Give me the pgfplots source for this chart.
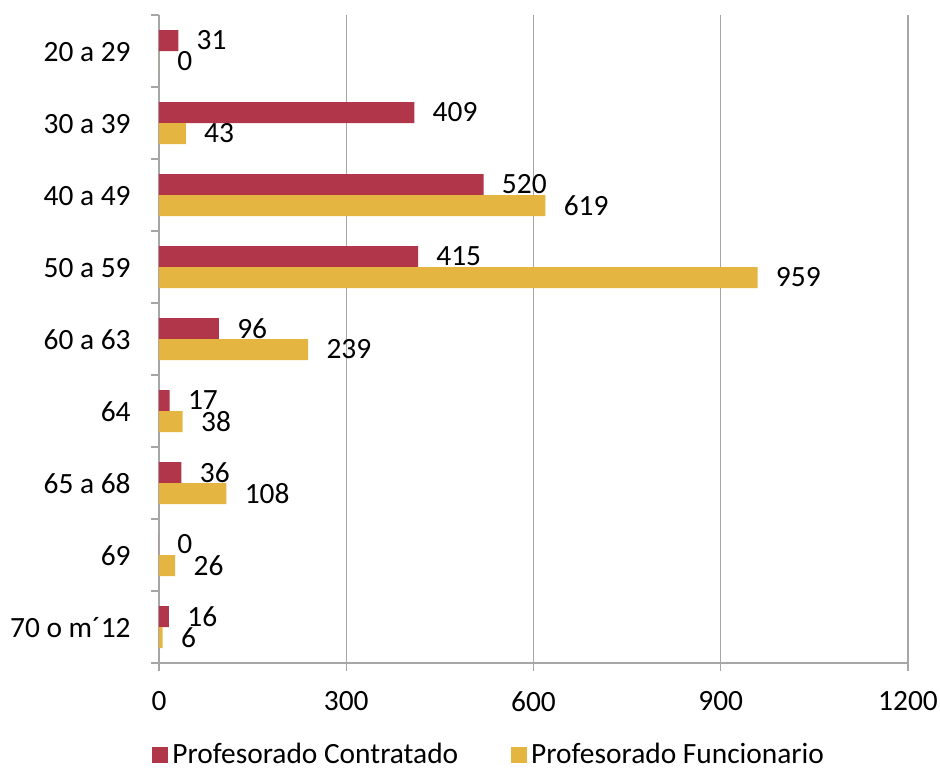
\documentclass[border=0pt]{standalone}
\usepackage{fontspec}
\setmainfont{Carlito}
\usepackage{pgfplots}
\pgfplotsset{compat=1.18}

\definecolor{contratado}{RGB}{177,54,73}
\definecolor{funcionario}{RGB}{229,181,66}
\definecolor{ejes}{RGB}{166,166,166}
\newcommand\fsz{\fontsize{14.7}{17.6}\selectfont}

\begin{document}
\begin{tikzpicture}
\useasboundingbox (-79.5pt,-54pt) rectangle (390.5pt,331.5pt);
\begin{axis}[
    at={(0,0)}, anchor=south west,
    scale only axis,
    width=374.5pt, height=324pt,
    xbar, bar width=10.5pt,
    xmin=0, xmax=1200,
    ymin=-0.5, ymax=8.5,
    xtick={0,300,...,1200},
    scaled x ticks=false,
    /pgf/number format/1000 sep={},
    /pgf/number format/assume math mode=true,
    ytick={-0.5,0.5,...,8.5},
    yticklabels={},
    extra y ticks={0,1,...,8},
    extra y tick labels={70 o m´12,69,65 a 68,64,60 a 63,50 a 59,40 a 49,30 a 39,20 a 29},
    extra y tick style={major tick length=0pt},
    tick align=outside,
    major tick length=4pt,
    axis lines*=left,
    axis line style={ejes, line width=0.7pt},
    tick style={ejes, line width=0.7pt},
    xmajorgrids,
    grid style={ejes, line width=0.7pt},
    tick label style={font=\fsz, text=black},
    yticklabel style={inner sep=0pt, xshift=-14pt, yshift=-0.5pt},
    xticklabel style={inner sep=0pt, yshift=-10pt},
    point meta=explicit symbolic,
    nodes near coords,
    every node near coord/.append style={font=\fsz, text=black, anchor=west, inner sep=0pt, xshift=9pt},
    legend style={at={(0,0)}, anchor=west, xshift=-3.5pt, yshift=-46pt,
        draw=none, fill=none, font=\fsz, inner sep=0pt,
        legend columns=2,
        /tikz/every even column/.append style={column sep=24.5pt},
        nodes={inner xsep=2pt, inner ysep=0pt}},
    legend cell align=left,
    legend image code/.code={\fill[#1] (0pt,-4pt) rectangle (8pt,4pt);},
]
\addplot[fill=contratado, draw=none, bar shift=5.25pt] coordinates {
    (31,8) [31]
    (409,7) [409]
    (520,6) [520]
    (415,5) [415]
    (96,4) [96]
    (17,3) [17]
    (36,2) [36]
    (0,1) [0]
    (16,0) [16]
};
\addplot[fill=funcionario, draw=none, bar shift=-5.25pt] coordinates {
    (0,8) [0]
    (43,7) [43]
    (619,6) [619]
    (959,5) [959]
    (239,4) [239]
    (38,3) [38]
    (108,2) [108]
    (26,1) [26]
    (6,0) [6]
};
\legend{Profesorado Contratado,Profesorado Funcionario}
\end{axis}
\end{tikzpicture}
\end{document}
